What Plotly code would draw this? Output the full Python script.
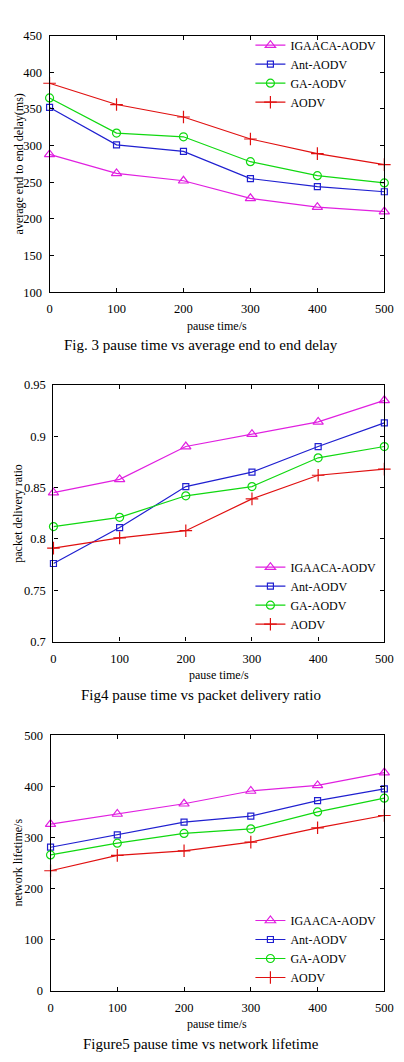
import plotly.graph_objects as go

pause = [0, 100, 200, 300, 400, 500]
series_names = ["IGAACA-AODV", "Ant-AODV", "GA-AODV", "AODV"]

delay_igaaca = [288, 262, 252, 228, 216, 210]
delay_ant = [352, 301, 292, 255, 244, 237]
delay_ga = [365, 317, 312, 278, 259, 249]
delay_aodv = [385, 356, 339, 309, 289, 274]

pdr_igaaca = [0.845, 0.858, 0.890, 0.902, 0.914, 0.935]
pdr_ant = [0.776, 0.811, 0.851, 0.865, 0.890, 0.913]
pdr_ga = [0.812, 0.821, 0.842, 0.851, 0.879, 0.890]
pdr_aodv = [0.791, 0.801, 0.808, 0.839, 0.862, 0.868]

life_igaaca = [326, 346, 366, 391, 402, 427]
life_ant = [281, 305, 330, 342, 372, 395]
life_ga = [266, 289, 308, 317, 350, 377]
life_aodv = [235, 265, 274, 291, 319, 343]

delay_ticks = [100, 150, 200, 250, 300, 350, 400, 450]
pdr_ticks = [0.7, 0.75, 0.8, 0.85, 0.9, 0.95]
life_ticks = [0, 100, 200, 300, 400, 500]

colors = ["#e020e0", "#2020d0", "#10d810", "#e01010"]
symbols = ["triangle-up-open", "square-open", "circle-open", "cross-thin-open"]
msizes = [9, 6, 8, 9]

FONT = "Liberation Serif, Times New Roman, serif"
W, H = 404, 1062

fig = go.Figure()

panels = [
    dict(data=[delay_igaaca, delay_ant, delay_ga, delay_aodv], ticks=delay_ticks,
         rng=[100, 450], px=(48, 393), py=(29, 289),
         ytitle="average end to end delay(ms)", caption="Fig. 3 pause time vs average end to end delay",
         legend_top=24, xlab_y=323, cap_y=343),
    dict(data=[pdr_igaaca, pdr_ant, pdr_ga, pdr_aodv], ticks=pdr_ticks,
         rng=[0.7, 0.95], px=(52, 393), py=(383, 643),
         ytitle="packet delivery ratio", caption="Fig4 pause time vs packet delivery ratio",
         legend_top=553, xlab_y=677, cap_y=697),
    dict(data=[life_igaaca, life_ant, life_ga, life_aodv], ticks=life_ticks,
         rng=[0, 500], px=(49, 393), py=(738, 997),
         ytitle="network lifetime/s", caption="Figure5 pause time vs network lifetime",
         legend_top=911, xlab_y=1031, cap_y=1051),
]

annotations = []
for i, p in enumerate(panels):
    k = i + 1
    xa = "x" if k == 1 else f"x{k}"
    ya = "y" if k == 1 else f"y{k}"
    lg = "legend" if k == 1 else f"legend{k}"
    for j in range(4):
        fig.add_trace(go.Scatter(
            x=pause, y=p["data"][j], name=series_names[j], mode="lines+markers",
            line=dict(color=colors[j], width=1.2),
            marker=dict(symbol=symbols[j], size=msizes[j], color=colors[j],
                        line=dict(color=colors[j], width=1.2)),
            xaxis=xa, yaxis=ya, legend=lg, cliponaxis=False,
        ))
    xd = [p["px"][0] / W, p["px"][1] / W]
    yd = [1 - p["py"][1] / H, 1 - p["py"][0] / H]
    axcommon = dict(showline=True, linecolor="black", linewidth=1.2, mirror="ticks",
                    ticks="inside", ticklen=4, tickcolor="black", showgrid=False, zeroline=False,
                    tickfont=dict(family=FONT, size=12.5, color="black"))
    fig.update_layout(**{
        ("xaxis" if k == 1 else f"xaxis{k}"): dict(domain=xd, range=[0, 500], tickvals=pause,
                                                   anchor=ya, ticklabelstandoff=5, **axcommon),
        ("yaxis" if k == 1 else f"yaxis{k}"): dict(domain=yd, range=p["rng"], tickvals=p["ticks"],
                                                   anchor=xa, ticklabelstandoff=4, **axcommon),
        lg: dict(x=390 / W, xanchor="right", y=1 - p["legend_top"] / H, yanchor="top",
                 bgcolor="rgba(0,0,0,0)", borderwidth=0, itemwidth=30, tracegroupgap=0,
                 font=dict(family=FONT, size=12, color="black")),
    })
    annotations.append(dict(text="pause time/s", x=(p["px"][0] + p["px"][1]) / 2 / W,
                            y=1 - p["xlab_y"] / H, xref="paper", yref="paper", showarrow=False,
                            xanchor="center", yanchor="middle",
                            font=dict(family=FONT, size=12, color="black")))
    annotations.append(dict(text=p["caption"], x=0.5 * (22 + 386) / W,
                            y=1 - p["cap_y"] / H, xref="paper", yref="paper", showarrow=False,
                            xanchor="center", yanchor="middle",
                            font=dict(family=FONT, size=15, color="black")))
    annotations.append(dict(text=p["ytitle"], x=16 / W,
                            y=1 - (p["py"][0] + p["py"][1]) / 2 / H, xref="paper", yref="paper",
                            showarrow=False, textangle=-90, xanchor="center", yanchor="middle",
                            font=dict(family=FONT, size=12, color="black")))

fig.update_layout(width=W, height=H, margin=dict(l=0, r=0, t=0, b=0),
                  paper_bgcolor="white", plot_bgcolor="white",
                  annotations=annotations, showlegend=True)

fig.write_html("out.html")
